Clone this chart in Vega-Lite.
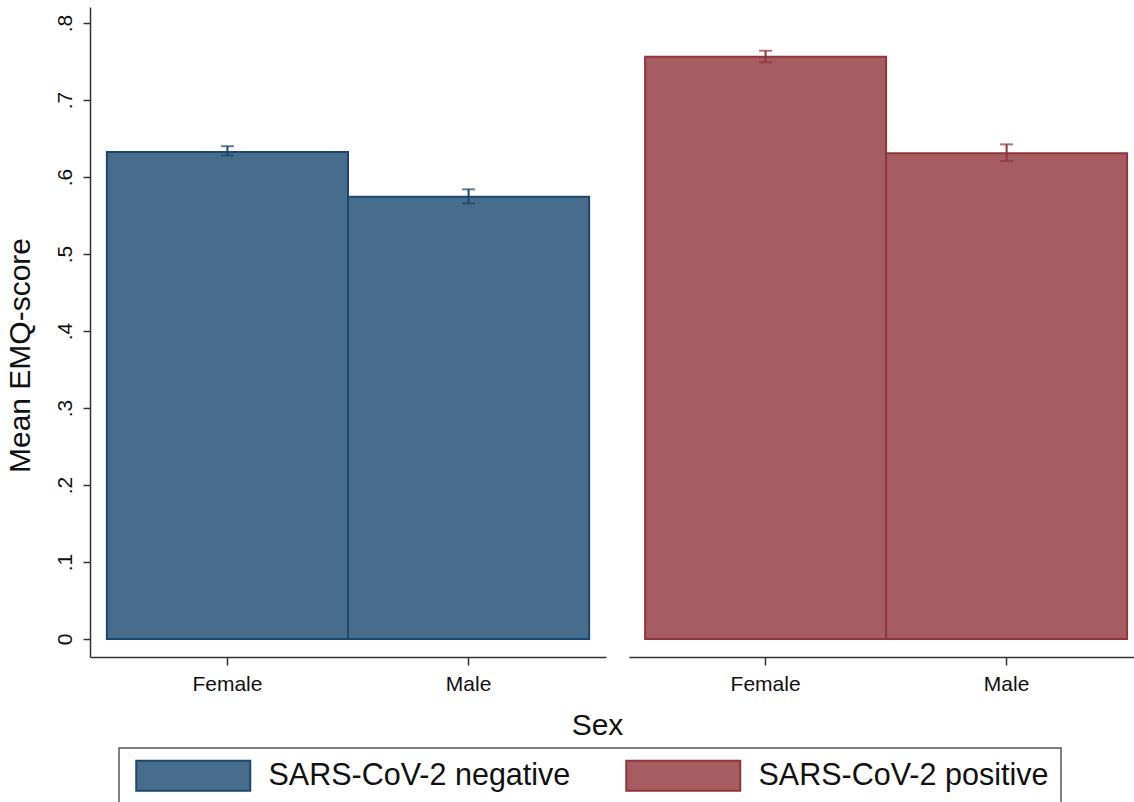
{
  "$schema": "https://vega.github.io/schema/vega-lite/v6.json",
  "background": "white",
  "padding": {"left": 5, "top": 7, "right": 0, "bottom": 0},
  "bounds": "flush",
  "spacing": 23,
  "data": {"values": [
    {"group": "SARS-CoV-2 negative", "sex": "Female", "mean": 0.6325, "lo": 0.628, "hi": 0.640},
    {"group": "SARS-CoV-2 negative", "sex": "Male", "mean": 0.5744, "lo": 0.5658, "hi": 0.584},
    {"group": "SARS-CoV-2 positive", "sex": "Female", "mean": 0.7563, "lo": 0.749, "hi": 0.764},
    {"group": "SARS-CoV-2 positive", "sex": "Male", "mean": 0.6308, "lo": 0.6208, "hi": 0.6424}
  ]},
  "hconcat": [
    {
      "width": 516,
      "height": 650,
      "transform": [{"filter": "datum.group == 'SARS-CoV-2 negative'"}],
      "layer": [
        {
          "mark": {"type": "bar", "strokeWidth": 2, "stroke": "#1A476F"},
          "encoding": {
            "x": {"field": "sex", "type": "nominal", "sort": ["Female", "Male"],
              "scale": {"domain": ["Female", "Male"], "paddingInner": 0, "paddingOuter": 0.07},
              "axis": {"title": "Sex", "titleX": 507, "titleY": 53, "titleAlign": "center", "titleBaseline": "top",
                "titleFont": "Liberation Sans", "titleFontSize": 30, "titleFontWeight": "normal", "titleColor": "#111",
                "labelAngle": 0, "labelFont": "Liberation Sans", "labelFontSize": 21, "labelColor": "#111", "labelPadding": 8,
                "tickSize": 8, "tickColor": "#333", "tickWidth": 1.5, "domainColor": "#333", "domainWidth": 1.5}},
            "y": {"field": "mean", "type": "quantitative",
              "scale": {"domain": [-0.0234, 0.8208], "nice": false, "zero": false},
              "axis": {"title": "Mean EMQ-score", "values": [0, 0.1, 0.2, 0.3, 0.4, 0.5, 0.6, 0.7, 0.8],
                "labelExpr": "datum.value == 0 ? '0' : replace(format(datum.value, '.1f'), '0.', '.')",
                "grid": false, "labelAngle": -90, "labelFont": "Liberation Sans", "labelFontSize": 21, "labelColor": "#111", "labelPadding": 8,
                "tickSize": 7, "tickColor": "#333", "tickWidth": 1.5, "domainColor": "#333", "domainWidth": 1.5,
                "titleFont": "Liberation Sans", "titleFontSize": 30, "titleFontWeight": "normal", "titleColor": "#111",
                "titleX": -55, "titleY": 348}},
            "fill": {"field": "group", "type": "nominal", "title": null,
              "scale": {"domain": ["SARS-CoV-2 negative", "SARS-CoV-2 positive"], "range": ["#486C8C", "#A65D62"]}},
            "stroke": {"field": "group", "type": "nominal", "title": null,
              "scale": {"domain": ["SARS-CoV-2 negative", "SARS-CoV-2 positive"], "range": ["#1A476F", "#90353B"]}}
          }
        },
        {
          "mark": {"type": "errorbar", "color": "#1A476F", "thickness": 2, "ticks": {"size": 13}},
          "encoding": {
            "x": {"field": "sex", "type": "nominal", "sort": ["Female", "Male"]},
            "y": {"field": "lo", "type": "quantitative", "title": "Mean EMQ-score"},
            "y2": {"field": "hi"}
          }
        }
      ]
    },
    {
      "width": 505,
      "height": 650,
      "transform": [{"filter": "datum.group == 'SARS-CoV-2 positive'"}],
      "layer": [
        {
          "mark": {"type": "bar", "strokeWidth": 2, "stroke": "#90353B"},
          "encoding": {
            "x": {"field": "sex", "type": "nominal", "sort": ["Female", "Male"],
              "scale": {"domain": ["Female", "Male"], "paddingInner": 0, "paddingOuter": 0.0477, "align": 0.7},
              "axis": {"title": null,
                "labelAngle": 0, "labelFont": "Liberation Sans", "labelFontSize": 21, "labelColor": "#111", "labelPadding": 8,
                "tickSize": 8, "tickColor": "#333", "tickWidth": 1.5, "domainColor": "#333", "domainWidth": 1.5}},
            "y": {"field": "mean", "type": "quantitative",
              "scale": {"domain": [-0.0234, 0.8208], "nice": false, "zero": false},
              "axis": null},
            "fill": {"field": "group", "type": "nominal", "title": null,
              "scale": {"domain": ["SARS-CoV-2 negative", "SARS-CoV-2 positive"], "range": ["#486C8C", "#A65D62"]}},
            "stroke": {"field": "group", "type": "nominal", "title": null,
              "scale": {"domain": ["SARS-CoV-2 negative", "SARS-CoV-2 positive"], "range": ["#1A476F", "#90353B"]}}
          }
        },
        {
          "mark": {"type": "errorbar", "color": "#90353B", "thickness": 2, "ticks": {"size": 13}},
          "encoding": {
            "x": {"field": "sex", "type": "nominal", "sort": ["Female", "Male"]},
            "y": {"field": "lo", "type": "quantitative", "axis": null},
            "y2": {"field": "hi"}
          }
        }
      ]
    }
  ],
  "config": {
    "view": {"stroke": null},
    "legend": {
      "orient": "none",
      "legendX": 29,
      "legendY": 741,
      "direction": "horizontal",
      "padding": 12,
      "strokeColor": "#555",
      "strokeWidth": 1.5,
      "fillColor": "white",
      "symbolType": "M-1,-1.5H10.4V1.5H-1Z",
      "symbolSize": 400,
      "symbolStrokeWidth": 2,
      "symbolOpacity": 1,
      "labelOffset": 107,
      "labelFont": "Liberation Sans",
      "labelFontSize": 30.5,
      "labelColor": "#111",
      "labelLimit": 400,
      "columnPadding": 50
    }
  }
}
